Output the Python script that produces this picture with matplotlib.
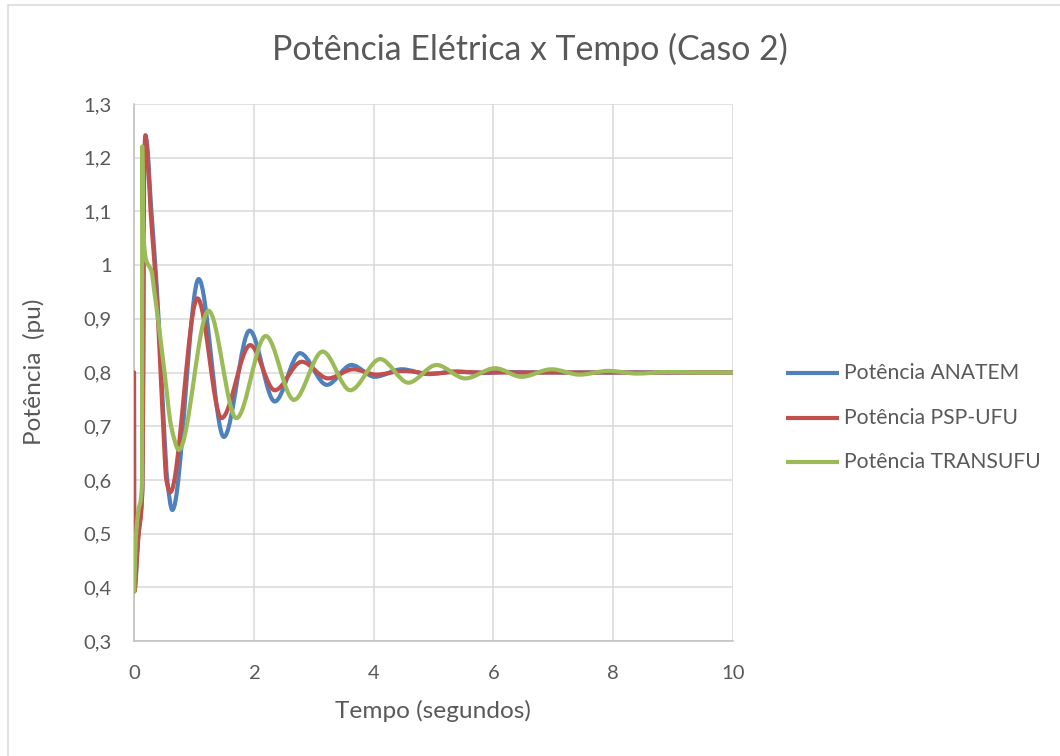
import numpy as np
import matplotlib
matplotlib.use("Agg")
import matplotlib.pyplot as plt
from matplotlib.path import Path
from matplotlib.patches import PathPatch, Rectangle
from matplotlib.lines import Line2D

plt.rcParams['font.family'] = ['Lato', 'DejaVu Sans']

# ---- data (tempo em segundos, potência em pu) ----
t_anatem = [0.000, 0.005, 0.070, 0.140, 0.155, 0.168, 0.200, 0.290, 0.355, 0.410,
            0.455, 0.500, 0.555, 0.640, 1.080, 1.500, 1.930, 2.350, 2.770, 3.220,
            3.630, 4.020, 4.470, 4.920, 5.370, 5.820, 6.250, 6.700, 10.000]
p_anatem = [0.800, 0.392, 0.495, 0.585, 0.800, 1.150, 1.235, 1.100, 1.000, 0.900,
            0.800, 0.700, 0.600, 0.544, 0.974, 0.680, 0.878, 0.746, 0.836, 0.777,
            0.814, 0.792, 0.806, 0.797, 0.802, 0.799, 0.801, 0.800, 0.800]

t_pspufu = [0.000, 0.005, 0.070, 0.140, 0.152, 0.165, 0.190, 0.235, 0.277, 0.344,
            0.400, 0.444, 0.488, 0.540, 0.605, 1.060, 1.460, 1.940, 2.350, 2.800,
            3.240, 3.660, 4.050, 4.500, 4.950, 5.400, 5.850, 10.000]
p_pspufu = [0.800, 0.393, 0.490, 0.585, 0.800, 1.150, 1.242, 1.190, 1.100, 1.000,
            0.900, 0.800, 0.700, 0.600, 0.577, 0.938, 0.715, 0.851, 0.767, 0.820,
            0.789, 0.806, 0.796, 0.803, 0.798, 0.801, 0.800, 0.800]

t_transufu = [0.003, 0.030, 0.070, 0.134, 0.137, 0.150, 0.175, 0.205, 0.240, 0.290,
              0.340, 0.400, 0.510, 0.620, 0.750, 1.245, 1.710, 2.200, 2.670, 3.150,
              3.610, 4.110, 4.580, 5.050, 5.530, 6.030, 6.470, 6.970, 7.440, 7.920,
              8.400, 8.900, 9.400, 10.000]
p_transufu = [0.392, 0.490, 0.540, 0.595, 1.221, 1.100, 1.030, 1.008, 1.000, 0.990,
              0.950, 0.900, 0.800, 0.700, 0.656, 0.915, 0.715, 0.868, 0.749, 0.839,
              0.767, 0.825, 0.781, 0.814, 0.789, 0.808, 0.792, 0.806, 0.796, 0.803,
              0.798, 0.801, 0.800, 0.800]

series_labels = ['Potência ANATEM', 'Potência PSP-UFU', 'Potência TRANSUFU']
series_colors = ['#4F81BD', '#C0504D', '#9BBB59']

x_ticks = [0, 2, 4, 6, 8, 10]
x_tick_labels = ['0', '2', '4', '6', '8', '10']
y_ticks = [0.3, 0.4, 0.5, 0.6, 0.7, 0.8, 0.9, 1.0, 1.1, 1.2, 1.3]
y_tick_labels = ['0,3', '0,4', '0,5', '0,6', '0,7', '0,8', '0,9', '1', '1,1', '1,2', '1,3']

title = 'Potência Elétrica x Tempo (Caso 2)'
x_title = 'Tempo (segundos)'
y_title = 'Potência  (pu)'

TEXT = '#595959'
GRID = '#D9D9D9'
W, H = 1060, 756


def monotone_slopes(t, y):
    """Fritsch-Butland slopes: flat at local extrema, no overshoot."""
    t = np.asarray(t, float)
    y = np.asarray(y, float)
    h = np.diff(t)
    d = np.diff(y) / h
    m = np.zeros_like(y)
    for k in range(1, len(y) - 1):
        if d[k - 1] * d[k] > 0:
            w1 = 2 * h[k] + h[k - 1]
            w2 = h[k] + 2 * h[k - 1]
            m[k] = (w1 + w2) / (w1 / d[k - 1] + w2 / d[k])
    m[0] = d[0]
    m[-1] = d[-1]
    return m


def smooth_path(t, y):
    """Smoothed line through the samples as a chain of cubic Bezier segments."""
    m = monotone_slopes(t, y)
    verts = [(t[0], y[0])]
    codes = [Path.MOVETO]
    for k in range(len(t) - 1):
        h = t[k + 1] - t[k]
        verts += [(t[k] + h / 3, y[k] + m[k] * h / 3),
                  (t[k + 1] - h / 3, y[k + 1] - m[k + 1] * h / 3),
                  (t[k + 1], y[k + 1])]
        codes += [Path.CURVE4] * 3
    return Path(verts, codes)


fig = plt.figure(figsize=(W / 100, H / 100), dpi=100)
fig.patch.set_facecolor('white')

# chart frame
fig.add_artist(Rectangle((8 / W, -0.05), 1.1, 1 - 5 / H + 0.05, transform=fig.transFigure,
                         fill=False, edgecolor=GRID, lw=1.1))

ax = fig.add_axes([134 / W, 1 - 641 / H, 599 / W, 537 / H])
ax.set_xlim(0, 10)
ax.set_ylim(0.3, 1.3)
ax.set_xticks(x_ticks)
ax.set_xticklabels(x_tick_labels)
ax.set_yticks(y_ticks)
ax.set_yticklabels(y_tick_labels)
ax.tick_params(length=0, labelsize=14.6, labelcolor=TEXT)
ax.tick_params(axis='x', pad=17)
ax.tick_params(axis='y', pad=16)
ax.grid(True, color=GRID, lw=1.1)
ax.set_axisbelow(True)
for side in ('top', 'right'):
    ax.spines[side].set_visible(False)
for side in ('left', 'bottom'):
    ax.spines[side].set_color('#BFBFBF')
    ax.spines[side].set_linewidth(1.1)

data = [(t_anatem, p_anatem), (t_pspufu, p_pspufu), (t_transufu, p_transufu)]
for i, ((t, p), c) in enumerate(zip(data, series_colors)):
    ax.add_patch(PathPatch(smooth_path(t, p), fill=False, edgecolor=c, lw=3.0,
                           capstyle='round', joinstyle='round', zorder=3 + i))

# legend
legend_rows = [373, 418, 462]
for yrow, lab, c in zip(legend_rows, series_labels, series_colors):
    yf = 1 - yrow / H
    fig.add_artist(Line2D([786 / W, 839 / W], [yf, yf], transform=fig.transFigure,
                          color=c, lw=3.0, solid_capstyle='butt'))
    fig.text(844 / W, yf, lab, ha='left', va='center', fontsize=15.2, color=TEXT)

fig.text(0.5, 1 - 60 / H, title, ha='center', va='baseline', fontsize=24.4, color=TEXT)
fig.text(432.5 / W, 1 - 718 / H, x_title, ha='center', va='baseline', fontsize=17.6, color=TEXT)
fig.text(34 / W, 1 - 372 / H, y_title, ha='center', va='center', rotation=90,
         fontsize=17.6, color=TEXT)

fig.savefig('out.png', dpi=100, facecolor='white')
